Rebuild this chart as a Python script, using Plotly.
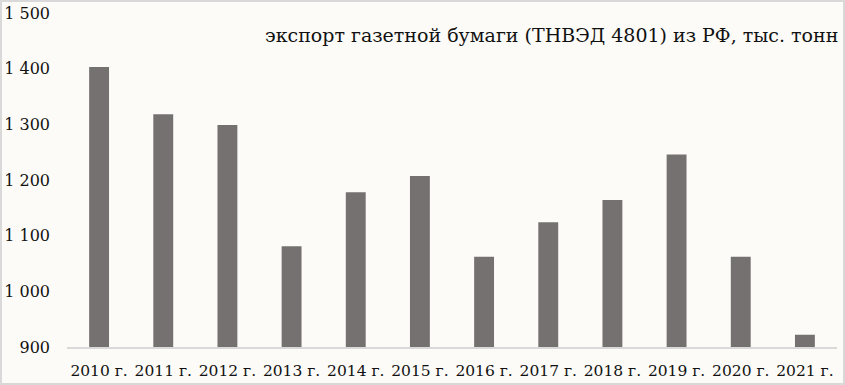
import plotly.graph_objects as go

categories = ["2010 г.", "2011 г.", "2012 г.", "2013 г.", "2014 г.", "2015 г.",
              "2016 г.", "2017 г.", "2018 г.", "2019 г.", "2020 г.", "2021 г."]
values = [1403, 1318, 1299, 1081, 1178, 1207, 1062, 1124, 1164, 1246, 1062, 922]
y_ticks = [900, 1000, 1100, 1200, 1300, 1400, 1500]
title_text = "экспорт газетной бумаги (ТНВЭД 4801) из РФ, тыс. тонн"

W, H = 845, 385
ml, mr, mt, mb = 67, 8, 13, 38
pw, ph = W - ml - mr, H - mt - mb

font_family = "DejaVu Serif"

fig = go.Figure(go.Bar(x=categories, y=values, marker_color="#767171", marker_line_width=0))

fig.update_layout(
    width=W, height=H,
    margin=dict(l=ml, r=mr, t=mt, b=mb, pad=0, autoexpand=False),
    paper_bgcolor="#FCFBF7", plot_bgcolor="#FCFBF7",
    bargap=0.69,
    separators=", ",
    font=dict(family=font_family, size=16, color="#111111"),
    showlegend=False,
    xaxis=dict(showline=True, linecolor="#D9D9D9", linewidth=1.5, ticks="", automargin=False,
               showgrid=False, tickfont=dict(size=15.5, family=font_family), ticklabelstandoff=9),
    yaxis=dict(range=[900, 1500], tickvals=y_ticks, tickformat=",d", showgrid=False, automargin=False,
               zeroline=False, showline=False, ticks="", tickfont=dict(size=16, family=font_family),
               ticklabelstandoff=16),
    annotations=[dict(text=title_text, xref="paper", yref="paper", align="right",
                      x=1 + 3 / pw, y=1 - 22 / ph, xanchor="right", yanchor="middle",
                      showarrow=False, font=dict(size=19, family=font_family))],
    shapes=[dict(type="rect", xref="paper", yref="paper",
                 x0=-(ml - 1) / pw, x1=1 + (mr - 1) / pw,
                 y0=-(mb - 1) / ph, y1=1 + (mt - 1) / ph,
                 line=dict(color="#D9D9D9", width=2), layer="above")],
)

fig.write_html("out.html")
